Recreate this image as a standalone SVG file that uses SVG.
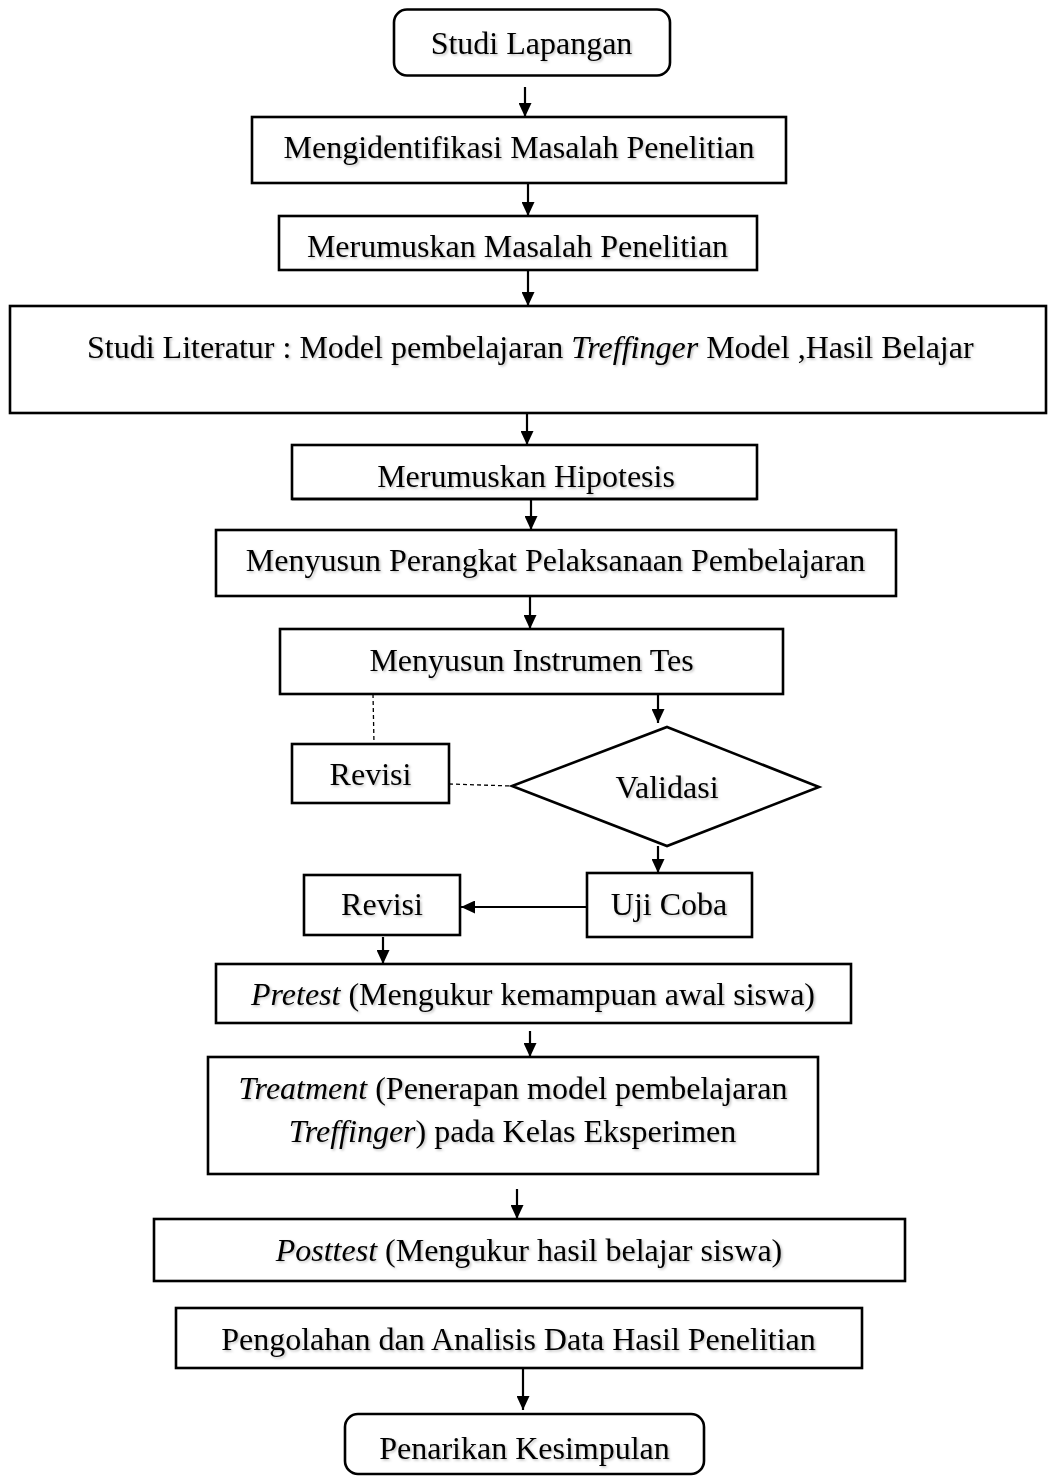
<svg xmlns="http://www.w3.org/2000/svg" width="1048" height="1476" viewBox="0 0 1048 1476">
<defs>
<style>
.box{fill:#fff;stroke:#000;stroke-width:2.6}
.t{font-family:"Liberation Serif","Times New Roman",serif;font-size:32px;fill:#000;text-anchor:middle;filter:url(#sh)}
.i{font-style:italic}
.c{stroke:#000;stroke-width:2.2;fill:none;marker-end:url(#ah)}
.d{stroke:#000;stroke-width:1.3;fill:none;stroke-dasharray:4 3}
</style>
<filter id="sh" x="-5%" y="-20%" width="110%" height="150%">
<feDropShadow dx="1.5" dy="1.5" stdDeviation="0.8" flood-color="#000" flood-opacity="0.25"/>
</filter>
<marker id="ah" markerUnits="userSpaceOnUse" markerWidth="14" markerHeight="13" refX="14" refY="6.5" orient="auto">
<path d="M0,0 L14,6.5 L0,13 z" fill="#000"/>
</marker>
</defs>
<rect width="1048" height="1476" fill="#fff"/>

<g id="connectors">
<line class="c" x1="525" y1="87" x2="525" y2="117"/>
<line class="c" x1="528" y1="183" x2="528" y2="216"/>
<line class="c" x1="528" y1="270" x2="528" y2="306"/>
<line class="c" x1="527" y1="413" x2="527" y2="445"/>
<line class="c" x1="531" y1="499" x2="531" y2="530"/>
<line class="c" x1="530" y1="596" x2="530" y2="629"/>
<line class="c" x1="658" y1="689" x2="658" y2="723"/>
<line class="c" x1="658" y1="846" x2="658" y2="873"/>
<line class="c" x1="587" y1="907" x2="461" y2="907"/>
<line class="c" x1="383" y1="937" x2="383" y2="964"/>
<line class="c" x1="530" y1="1031" x2="530" y2="1057"/>
<line class="c" x1="517" y1="1189" x2="517" y2="1219"/>
<line class="c" x1="523" y1="1368" x2="523" y2="1410"/>
<line class="d" x1="373" y1="694" x2="374" y2="744"/>
<line class="d" x1="449" y1="784" x2="512" y2="786"/>
</g>

<g id="studi-lapangan">
<rect class="box" x="394" y="9.5" width="276" height="66" rx="13"/>
<text class="t" x="531.5" y="54">Studi Lapangan</text>
</g>

<g id="identifikasi">
<rect class="box" x="252" y="117" width="534" height="66"/>
<text class="t" x="519" y="158">Mengidentifikasi Masalah Penelitian</text>
</g>

<g id="rumusan-masalah">
<rect class="box" x="279" y="216" width="478" height="54"/>
<text class="t" x="517.5" y="257">Merumuskan Masalah Penelitian</text>
</g>

<g id="studi-literatur">
<rect class="box" x="10" y="306" width="1036" height="107"/>
<text class="t" x="87" y="358" style="text-anchor:start">Studi Literatur : Model pembelajaran <tspan class="i">Treffinger</tspan> Model ,Hasil Belajar</text>
</g>

<g id="hipotesis">
<rect class="box" x="292" y="445" width="465" height="54"/>
<text class="t" x="526" y="487">Merumuskan Hipotesis</text>
<line x1="292" y1="499" x2="757" y2="499" stroke="#000" stroke-width="2.6"/>
</g>

<g id="perangkat">
<rect class="box" x="216" y="530" width="680" height="66"/>
<text class="t" x="555.5" y="571">Menyusun Perangkat Pelaksanaan Pembelajaran</text>
</g>

<g id="instrumen">
<rect class="box" x="280" y="629" width="503" height="65"/>
<text class="t" x="531.5" y="671">Menyusun Instrumen Tes</text>
</g>

<g id="revisi-1">
<rect class="box" x="292" y="744" width="157" height="59"/>
<text class="t" x="370.5" y="785">Revisi</text>
</g>

<g id="validasi">
<polygon class="box" points="667,727 819,787 667,846 512,786"/>
<text class="t" x="667" y="798">Validasi</text>
</g>

<g id="uji-coba">
<rect class="box" x="587" y="873" width="165" height="64"/>
<text class="t" x="669" y="915">Uji Coba</text>
</g>

<g id="revisi-2">
<rect class="box" x="304" y="875" width="156" height="60"/>
<text class="t" x="382" y="915">Revisi</text>
</g>

<g id="pretest">
<rect class="box" x="216" y="964" width="635" height="59"/>
<text class="t" x="533" y="1005"><tspan class="i">Pretest</tspan> (Mengukur kemampuan awal siswa)</text>
</g>

<g id="treatment">
<rect class="box" x="208" y="1057" width="610" height="117"/>
<text class="t" x="513" y="1099"><tspan class="i">Treatment</tspan> (Penerapan model pembelajaran</text>
<text class="t" x="512.5" y="1142"><tspan class="i">Treffinger</tspan>) pada Kelas Eksperimen</text>
</g>

<g id="posttest">
<rect class="box" x="154" y="1219" width="751" height="62"/>
<text class="t" x="529" y="1261"><tspan class="i">Posttest</tspan> (Mengukur hasil belajar siswa)</text>
</g>

<g id="pengolahan">
<rect class="box" x="176" y="1308" width="686" height="60"/>
<text class="t" x="518.5" y="1350">Pengolahan dan Analisis Data Hasil Penelitian</text>
</g>

<g id="kesimpulan">
<rect class="box" x="345" y="1414" width="359" height="60" rx="13"/>
<text class="t" x="524.5" y="1459">Penarikan Kesimpulan</text>
</g>
</svg>
